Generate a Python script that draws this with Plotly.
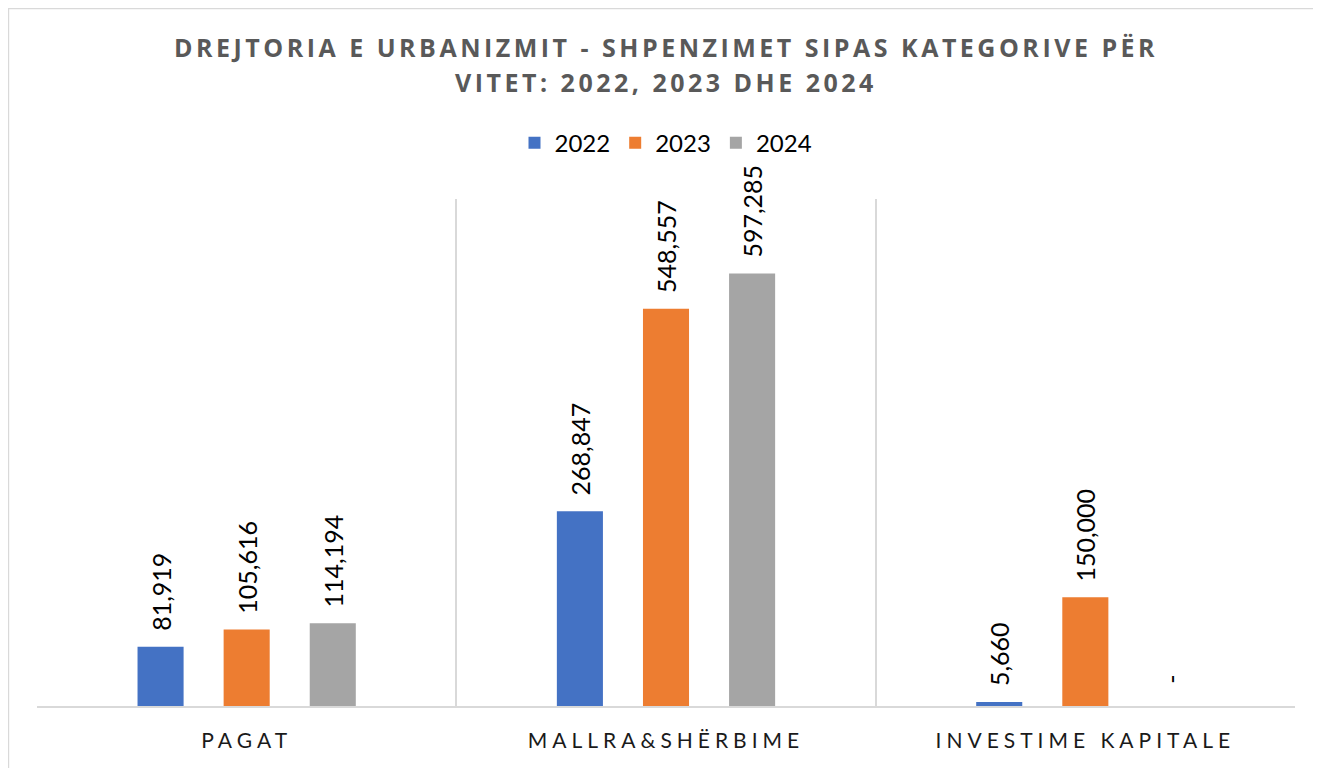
import plotly.graph_objects as go

categories = ["PAGAT", "MALLRA&SHËRBIME", "INVESTIME KAPITALE"]
years = ["2022", "2023", "2024"]
values_2022 = [81919, 268847, 5660]
values_2023 = [105616, 548557, 150000]
values_2024 = [114194, 597285, 0]
series = [values_2022, values_2023, values_2024]
colors = ["#4472C4", "#ED7D31", "#A5A5A5"]

title_line1 = "DREJTORIA E URBANIZMIT - SHPENZIMET SIPAS KATEGORIVE PËR"
title_line2 = "VITET: 2022, 2023 DHE 2024"

NB = "\u00a0"

def fmt(v):
    return NB * 3 + "-" if v == 0 else NB * 2 + f"{v:,}"

def spaced(s, px):
    return f'<span style="letter-spacing:{px}px">{s}</span>'

fig = go.Figure()
for yr, vals, col in zip(years, series, colors):
    fig.add_trace(go.Bar(
        name=yr, x=categories, y=vals, marker=dict(color=col, line=dict(width=0)),
        text=[fmt(v) for v in vals], textposition="outside", textangle=-90,
        constraintext="none",
        textfont=dict(family="Lato", size=25, color="#000000"),
        cliponaxis=False,
    ))

# page body has an 8px margin; figure sized to the visible area
fig.update_layout(
    width=1313, height=760,
    margin=dict(l=29, r=26, t=191, b=62),
    paper_bgcolor="white", plot_bgcolor="white",
    barmode="group", bargap=0.384, bargroupgap=0.465,
    showlegend=True,
    legend=dict(orientation="h", x=0.5, xanchor="center", y=1.110, yanchor="middle",
                font=dict(family="Lato", size=24, color="#000000"),
                bgcolor="rgba(0,0,0,0)", traceorder="normal"),
)
fig.update_xaxes(
    type="category", tickson="boundaries", showgrid=True, gridcolor="#D9D9D9", gridwidth=1.5,
    showline=True, linecolor="#D9D9D9", linewidth=2, ticks="",
    tickmode="array", tickvals=categories, ticktext=[spaced(c, 5) for c in categories],
    tickfont=dict(family="Lato", size=21, color="#1a1a1a"), ticklabelstandoff=15,
)
fig.update_yaxes(range=[0, 700000], showgrid=False, showticklabels=False, zeroline=False, showline=False)

fig.add_annotation(text="<b>" + spaced(title_line1, 3.5) + "</b>", xref="paper", yref="paper",
                   x=0.5, y=1.2998, xanchor="center", yanchor="middle", showarrow=False,
                   font=dict(family="Open Sans", size=25, color="#595959"))
fig.add_annotation(text="<b>" + spaced(title_line2, 3.5) + "</b>", xref="paper", yref="paper",
                   x=0.5, y=1.2308, xanchor="center", yanchor="middle", showarrow=False,
                   font=dict(family="Open Sans", size=25, color="#595959"))

fig.add_shape(type="rect", xref="paper", yref="paper", x0=-0.0227, x1=1.03, y0=-0.14, y1=1.3757,
              line=dict(color="#D9D9D9", width=1.5), fillcolor="rgba(0,0,0,0)", layer="below")

fig.write_html("out.html")
